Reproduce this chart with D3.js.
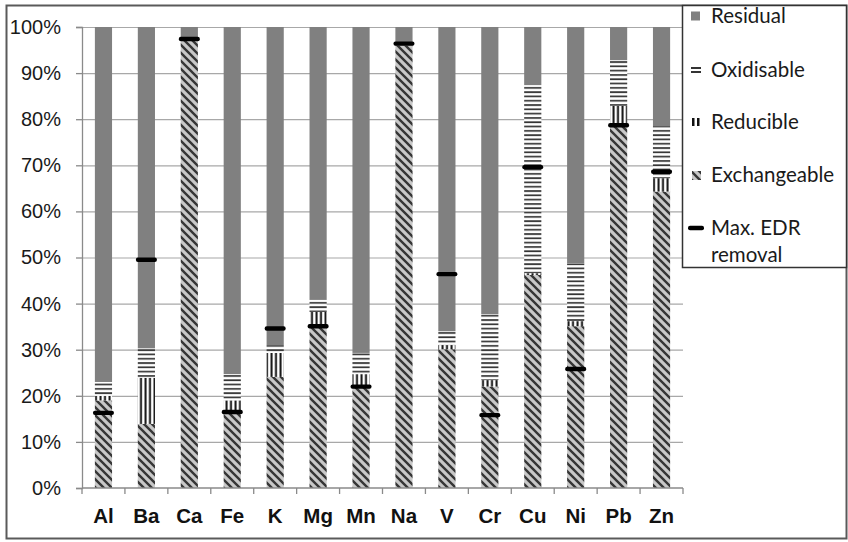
<!DOCTYPE html>
<html>
<head>
<meta charset="utf-8">
<script src="https://cdn.jsdelivr.net/npm/d3@7"></script>
<style>
  html, body { margin: 0; padding: 0; background: #fff; }
  svg { display: block; font-family: Lato, "Open Sans", sans-serif; }
</style>
</head>
<body>
<svg id="chart" width="848" height="542"></svg>
<script>
// ---- Data (fractions in %) ----
const categories   = ["Al","Ba","Ca","Fe","K","Mg","Mn","Na","V","Cr","Cu","Ni","Pb","Zn"];
const exchangeable = [19.0, 13.9, 97.2, 16.3, 24.1, 35.3, 22.0, 96.0, 30.1, 22.0, 46.2, 35.1, 78.5, 64.3];
const reducible    = [ 1.0, 10.0,  0.0,  2.7,  5.2,  2.9,  2.7,  0.0,  0.9,  1.4,  0.4,  1.1,  4.4,  2.9];
const oxidisable   = [ 3.0,  6.4,  0.0,  5.7,  1.7,  2.6,  4.6,  0.0,  3.0, 14.3, 40.8, 12.5,  9.9, 11.3];
const residual     = [77.0, 69.7,  2.8, 75.3, 69.0, 59.2, 70.7,  4.0, 66.0, 62.3, 12.6, 51.3,  7.2, 21.5];
const maxEDR       = [16.3, 49.5, 97.4, 16.5, 34.6, 35.1, 22.0, 96.4, 46.4, 15.8, 69.6, 25.8, 78.7, 68.6];
const yTicks       = [0, 10, 20, 30, 40, 50, 60, 70, 80, 90, 100];
const seriesKeys   = ["Exchangeable", "Reducible", "Oxidisable", "Residual"];
const legendLabels = ["Residual", "Oxidisable", "Reducible", "Exchangeable", "Max. EDR removal"];

(function () {
const table = categories.map((c, i) => {
  const tot = exchangeable[i] + reducible[i] + oxidisable[i] + residual[i];
  return {
    cat: c,
    Exchangeable: exchangeable[i] / tot,
    Reducible: reducible[i] / tot,
    Oxidisable: oxidisable[i] / tot,
    Residual: residual[i] / tot,
    edr: maxEDR[i] / 100
  };
});

const svg = d3.select("#chart");
const pLeft = 82, pRight = 683, pTop = 27, pBottom = 488;

// ---- Patterns ----
const defs = svg.append("defs");
const pEx = defs.append("pattern").attr("id", "pEx").attr("patternUnits", "userSpaceOnUse")
  .attr("width", 8).attr("height", 8);
pEx.append("rect").attr("width", 8).attr("height", 8).attr("fill", "#c8c8c8");
pEx.append("path").attr("d", "M-1,-1 L9,9 M-1,7 L1,9 M7,-1 L9,1")
  .attr("stroke", "#363636").attr("stroke-width", 2.4);

const pRed = defs.append("pattern").attr("id", "pRed").attr("patternUnits", "userSpaceOnUse")
  .attr("width", 4.5).attr("height", 4);
pRed.append("rect").attr("width", 4.5).attr("height", 4).attr("fill", "#fff");
pRed.append("rect").attr("x", 0.5).attr("width", 2).attr("height", 4).attr("fill", "#111");

const pOx = defs.append("pattern").attr("id", "pOx").attr("patternUnits", "userSpaceOnUse")
  .attr("width", 4).attr("height", 4.3);
pOx.append("rect").attr("width", 4).attr("height", 4.3).attr("fill", "#fff");
pOx.append("rect").attr("y", 1).attr("width", 4).attr("height", 1.7).attr("fill", "#333");

const fills = { Exchangeable: "url(#pEx)", Reducible: "url(#pRed)", Oxidisable: "url(#pOx)", Residual: "#808080" };

// ---- Scales ----
const x = d3.scaleBand().domain(categories).range([pLeft, pRight]).paddingInner(0.6).paddingOuter(0.3);
const xb = d3.scaleBand().domain(categories).range([pLeft, pRight]).padding(0);
const y = d3.scaleLinear().domain([0, 1]).range([pBottom, pTop]);

// ---- Frame ----
svg.append("rect").attr("x", 6.5).attr("y", 5.5).attr("width", 840).attr("height", 533)
  .attr("fill", "none").attr("stroke", "#5a5a5a").attr("stroke-width", 2);

// ---- Gridlines ----
svg.append("g").selectAll("line").data(yTicks.slice(1)).join("line")
  .attr("x1", pLeft).attr("x2", pRight)
  .attr("y1", d => y(d / 100) + 0.5).attr("y2", d => y(d / 100) + 0.5)
  .attr("stroke", "#a8a8a8").attr("stroke-width", 1.2);

// ---- Bars ----
const stack = d3.stack().keys(seriesKeys)(table);
svg.append("g").selectAll("g").data(stack).join("g")
  .attr("fill", s => fills[s.key])
  .selectAll("rect").data(s => s).join("rect")
  .attr("x", d => x(d.data.cat))
  .attr("width", x.bandwidth())
  .attr("y", d => y(d[1]))
  .attr("height", d => Math.max(0, y(d[0]) - y(d[1])));

// ---- Max EDR markers ----
svg.append("g").selectAll("rect").data(table).join("rect")
  .attr("x", d => x(d.cat) + x.bandwidth() / 2 - 10.5)
  .attr("width", 21)
  .attr("y", d => y(d.edr) - 2.2)
  .attr("height", 4.4)
  .attr("rx", 2)
  .attr("fill", "#000");

// ---- Y axis ----
const yAxis = d3.axisLeft(y).tickValues(yTicks.map(d => d / 100))
  .tickFormat(d => Math.round(d * 100) + "%").tickSize(6).tickPadding(15);
const gy = svg.append("g").attr("transform", `translate(${pLeft},0)`).call(yAxis);
gy.select(".domain").attr("stroke", "#8a8a8a").attr("stroke-width", 1.3);
gy.selectAll(".tick line").attr("stroke", "#8a8a8a").attr("stroke-width", 1.3);
gy.selectAll("text").attr("font-size", 20).attr("fill", "#1a1a1a");

// ---- X axis ----
svg.append("line").attr("x1", pLeft).attr("x2", pRight).attr("y1", pBottom).attr("y2", pBottom)
  .attr("stroke", "#8a8a8a").attr("stroke-width", 1.3);
const bounds = categories.map(c => xb(c)).concat([pRight]);
svg.append("g").selectAll("line").data(bounds).join("line")
  .attr("x1", d => d).attr("x2", d => d).attr("y1", pBottom).attr("y2", pBottom + 6)
  .attr("stroke", "#8a8a8a").attr("stroke-width", 1.3);
const xAxis = d3.axisBottom(x).tickSize(0).tickPadding(20);
const gx = svg.append("g").attr("transform", `translate(0,${pBottom})`).call(xAxis);
gx.select(".domain").remove();
gx.selectAll("text").attr("font-size", 20.5).attr("font-weight", "bold").attr("fill", "#111");

// ---- Legend ----
svg.append("rect").attr("x", 682.5).attr("y", 5.5).attr("width", 164).attr("height", 262)
  .attr("fill", "#fff").attr("stroke", "#333").attr("stroke-width", 1.5);
const lg = svg.append("g");
const ly = [16, 70, 122, 175, 228];
const tx = 711;
legendLabels.forEach((lab, i) => {
  const g = lg.append("g");
  const cy = ly[i];
  if (i === 0) {
    g.append("rect").attr("x", 691).attr("y", cy - 4.5).attr("width", 9).attr("height", 9).attr("fill", "#808080");
  } else if (i === 1) {
    g.append("rect").attr("x", 691).attr("y", cy - 3).attr("width", 10).attr("height", 2).attr("fill", "#333");
    g.append("rect").attr("x", 691).attr("y", cy + 1).attr("width", 10).attr("height", 2).attr("fill", "#333");
  } else if (i === 2) {
    g.append("rect").attr("x", 692).attr("y", cy - 4).attr("width", 2.5).attr("height", 8).attr("fill", "#111");
    g.append("rect").attr("x", 697).attr("y", cy - 4).attr("width", 2.5).attr("height", 8).attr("fill", "#111");
  } else if (i === 3) {
    g.append("rect").attr("x", 692).attr("y", cy - 4).attr("width", 9).attr("height", 9).attr("fill", "url(#pEx)");
  } else {
    g.append("rect").attr("x", 688).attr("y", cy - 2.2).attr("width", 16).attr("height", 4.4).attr("rx", 2).attr("fill", "#000");
  }
  const t = g.append("text").attr("x", tx).attr("y", cy).attr("dy", "0.35em")
    .attr("font-size", 20.5).attr("fill", "#1a1a1a");
  if (i === 4) {
    t.append("tspan").attr("x", tx).text("Max. EDR");
    t.append("tspan").attr("x", tx).attr("dy", "1.3em").text("removal");
  } else {
    t.text(lab);
  }
});
})();
</script>
</body>
</html>
